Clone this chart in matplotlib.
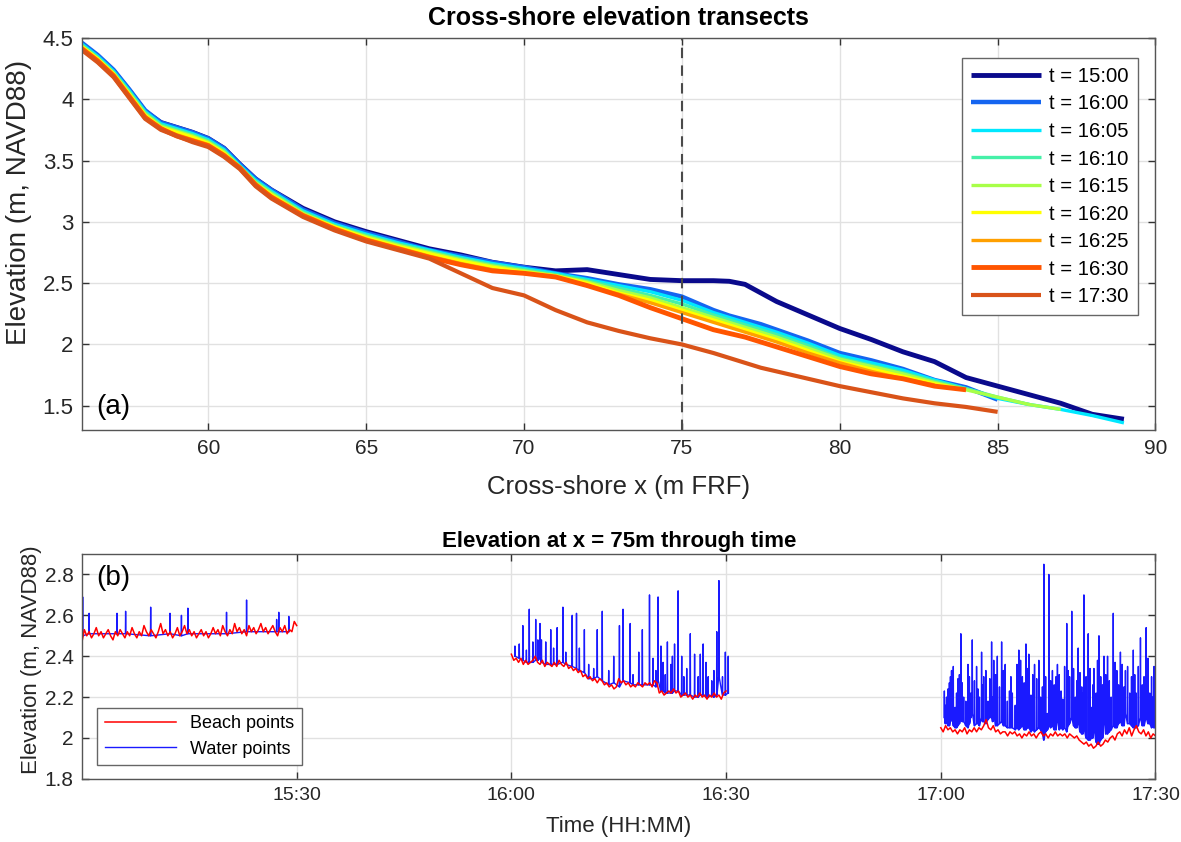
import matplotlib
matplotlib.use('Agg')
import matplotlib.pyplot as plt
import numpy as np
from matplotlib.ticker import FuncFormatter

plt.rcParams['font.family'] = ['Liberation Sans', 'DejaVu Sans']

# ---- cross-shore transects (x in m FRF, elevation in m NAVD88) ----
x_frf = [56, 56.5, 57, 57.5, 58, 58.5, 59, 59.5, 60, 60.5, 61, 61.5, 62,
         63, 64, 65, 66, 67, 68, 69, 70, 71, 72, 73, 74, 75, 76,
         76.5, 77, 77.5,
         78, 79, 80, 81, 82, 83, 84, 85, 86, 87, 88, 89]
nan = np.nan

z_1500 = [4.45, 4.35, 4.23, 4.07, 3.90, 3.81, 3.77, 3.73, 3.68, 3.60, 3.47, 3.35, 3.26,
          3.11, 3.00, 2.92, 2.85, 2.78, 2.73, 2.67, 2.63, 2.60, 2.61, 2.57, 2.53, 2.52, 2.52,
          2.515, 2.49, 2.42,
          2.35, 2.24, 2.13, 2.04, 1.94, 1.86, 1.73, 1.66, 1.59, 1.52, 1.43, 1.39]
z_1600 = [4.46, 4.36, 4.24, 4.08, 3.91, 3.81, 3.77, 3.73, 3.68, 3.60, 3.47, 3.35, 3.26,
          3.10, 2.99, 2.91, 2.84, 2.77, 2.72, 2.67, 2.63, 2.58, 2.54, 2.49, 2.45, 2.39, 2.28,
          2.235, 2.20, 2.165,
          2.12, 2.03, 1.93, 1.87, 1.80, 1.71, 1.65, 1.55, nan, nan, nan, nan]
z_1605 = [4.45, 4.35, 4.23, 4.07, 3.90, 3.80, 3.76, 3.72, 3.67, 3.59, 3.46, 3.34, 3.25,
          3.09, 2.98, 2.90, 2.83, 2.77, 2.71, 2.66, 2.62, 2.58, 2.53, 2.48, 2.43, 2.36, 2.26,
          2.22, 2.18, 2.14,
          2.10, 2.01, 1.91, 1.85, 1.79, 1.71, 1.64, 1.56, 1.51, 1.47, 1.42, 1.36]
z_1610 = [4.44, 4.34, 4.22, 4.06, 3.89, 3.79, 3.75, 3.71, 3.66, 3.58, 3.45, 3.33, 3.24,
          3.08, 2.97, 2.89, 2.82, 2.76, 2.70, 2.65, 2.61, 2.57, 2.52, 2.46, 2.40, 2.33, 2.24,
          2.20, 2.16, 2.12,
          2.08, 1.99, 1.89, 1.83, 1.77, 1.70, 1.64, 1.57, 1.51, nan, nan, nan]
z_1615 = [4.43, 4.33, 4.21, 4.05, 3.88, 3.78, 3.74, 3.70, 3.65, 3.57, 3.45, 3.32, 3.23,
          3.07, 2.96, 2.88, 2.81, 2.75, 2.69, 2.64, 2.60, 2.56, 2.51, 2.44, 2.38, 2.30, 2.22,
          2.18, 2.14, 2.10,
          2.06, 1.97, 1.88, 1.82, 1.76, 1.69, 1.63, 1.57, 1.51, 1.47, nan, nan]
z_1620 = [4.43, 4.33, 4.21, 4.04, 3.87, 3.77, 3.73, 3.69, 3.64, 3.56, 3.44, 3.31, 3.22,
          3.06, 2.96, 2.87, 2.80, 2.74, 2.68, 2.63, 2.59, 2.56, 2.50, 2.42, 2.36, 2.28, 2.20,
          2.16, 2.12, 2.08,
          2.04, 1.95, 1.86, 1.80, 1.74, 1.68, 1.63, nan, nan, nan, nan, nan]
z_1625 = [4.42, 4.32, 4.20, 4.03, 3.86, 3.76, 3.71, 3.67, 3.63, 3.55, 3.44, 3.31, 3.21,
          3.06, 2.95, 2.86, 2.79, 2.72, 2.66, 2.61, 2.58, 2.55, 2.48, 2.41, 2.34, 2.26, 2.18,
          2.14, 2.10, 2.06,
          2.02, 1.93, 1.85, 1.78, 1.72, 1.67, nan, nan, nan, nan, nan, nan]
z_1630 = [4.41, 4.31, 4.19, 4.02, 3.85, 3.76, 3.70, 3.66, 3.62, 3.54, 3.44, 3.30, 3.20,
          3.05, 2.94, 2.85, 2.78, 2.71, 2.65, 2.60, 2.58, 2.55, 2.48, 2.40, 2.30, 2.21, 2.12,
          2.09, 2.06, 2.02,
          1.98, 1.90, 1.82, 1.76, 1.72, 1.66, 1.63, nan, nan, nan, nan, nan]
z_1730 = [4.40, 4.30, 4.18, 4.01, 3.84, 3.75, 3.70, 3.65, 3.61, 3.53, 3.43, 3.29, 3.19,
          3.04, 2.93, 2.84, 2.77, 2.70, 2.58, 2.46, 2.40, 2.28, 2.18, 2.11, 2.05, 2.00, 1.93,
          1.89, 1.85, 1.81,
          1.78, 1.72, 1.66, 1.61, 1.56, 1.52, 1.49, 1.45, nan, nan, nan, nan]

profiles = [z_1500, z_1600, z_1605, z_1610, z_1615, z_1620, z_1625, z_1630, z_1730]
profile_labels = ['t = 15:00', 't = 16:00', 't = 16:05', 't = 16:10', 't = 16:15',
                  't = 16:20', 't = 16:25', 't = 16:30', 't = 17:30']
profile_colors = ['#0a0a8c', '#1565f0', '#00e8ff', '#45f0a8', '#a8ff48',
                  '#ffff00', '#ffa000', '#ff5500', '#d95319']
profile_widths = [3.5, 3.2, 2.4, 2.4, 2.4, 2.4, 2.4, 3.5, 3.0]

# ---- elevation at x = 75 m; time in minutes after 15:00 ----
beach_1 = [2.47, 2.53, 2.50, 2.52, 2.49, 2.51, 2.54, 2.50, 2.52, 2.49,
           2.51, 2.53, 2.50, 2.48, 2.52, 2.50, 2.53, 2.51, 2.49, 2.52,
           2.50, 2.54, 2.51, 2.49, 2.52, 2.50, 2.55, 2.52, 2.50, 2.53,
           2.51, 2.49, 2.52, 2.56, 2.51, 2.53, 2.50, 2.52, 2.49, 2.51,
           2.54, 2.50, 2.52, 2.55, 2.51, 2.53, 2.50, 2.52, 2.49, 2.51,
           2.53, 2.50, 2.52, 2.49, 2.51, 2.54, 2.51, 2.53, 2.50, 2.55,
           2.52, 2.50, 2.53, 2.51, 2.56, 2.52, 2.54, 2.51, 2.53, 2.50,
           2.55, 2.52, 2.54, 2.51, 2.53, 2.56, 2.52, 2.54, 2.51, 2.53,
           2.55, 2.52, 2.50, 2.54, 2.52, 2.55, 2.51, 2.53, 2.52, 2.57, 2.55]
beach_2 = [2.41, 2.38, 2.39, 2.37, 2.39, 2.36, 2.38, 2.36, 2.37, 2.38, 2.40, 2.37,
           2.36, 2.38, 2.35, 2.37, 2.36, 2.35, 2.37, 2.35, 2.38, 2.36, 2.35, 2.37,
           2.34, 2.35, 2.33, 2.34, 2.32, 2.33, 2.30, 2.31, 2.29, 2.30, 2.28, 2.29,
           2.27, 2.29, 2.28, 2.26, 2.27, 2.25, 2.26, 2.24, 2.25, 2.29, 2.27, 2.28,
           2.26, 2.27, 2.25, 2.26, 2.25, 2.27, 2.26, 2.25, 2.27, 2.26, 2.27, 2.25,
           2.28, 2.27, 2.22, 2.23, 2.21, 2.22, 2.23, 2.22, 2.24, 2.22, 2.23, 2.20,
           2.21, 2.22, 2.20, 2.21, 2.19, 2.21, 2.20, 2.22, 2.20, 2.21, 2.19, 2.21,
           2.20, 2.22, 2.20, 2.21, 2.19, 2.22, 2.23]
beach_3 = [2.05, 2.03, 2.06, 2.04, 2.05, 2.03, 2.04, 2.02, 2.04, 2.03, 2.05, 2.02,
           2.04, 2.03, 2.05, 2.03, 2.05, 2.04, 2.06, 2.09, 2.05, 2.04, 2.06, 2.03,
           2.04, 2.02, 2.03, 2.03, 2.01, 2.03, 2.02, 2.03, 2.01, 2.02, 2.00, 2.02,
           2.01, 2.03, 2.01, 2.02, 2.00, 2.02, 2.03, 2.01, 2.02, 2.00, 2.02, 2.01,
           2.03, 2.01, 2.02, 2.01, 2.02, 2.00, 2.02, 2.01, 2.00, 2.01, 1.99, 1.98,
           1.97, 1.98, 1.96, 1.97, 1.95, 1.96, 1.98, 1.96, 1.97, 1.99, 1.98, 2.00,
           2.01, 1.99, 2.02, 2.03, 2.01, 2.04, 2.02, 2.05, 2.01, 2.04, 2.06, 2.03,
           2.02, 2.04, 2.01, 2.03, 2.00, 2.02, 2.01]
beach_starts = [0, 60, 120]
beach_ends = [30, 90, 150]

# water returns: (minute, level between returns, peak)
water_1 = [(0.1, 2.50, 2.69), (1.0, 2.51, 2.61), (4.9, 2.51, 2.61), (6.1, 2.51, 2.62),
           (9.6, 2.50, 2.64), (12.3, 2.51, 2.61), (13.9, 2.50, 2.60), (14.8, 2.51, 2.635),
           (20.2, 2.51, 2.615), (23.0, 2.52, 2.675), (27.2, 2.52, 2.58), (27.5, 2.52, 2.615),
           (28.9, 2.52, 2.595)]
water_2 = [(60.5, 2.40, 2.45), (61.1, 2.39, 2.46), (61.6, 2.38, 2.55), (62.1, 2.37, 2.43),
           (62.5, 2.37, 2.63), (63.0, 2.37, 2.47), (63.4, 2.38, 2.58), (63.7, 2.38, 2.48),
           (64.0, 2.39, 2.56), (64.2, 2.37, 2.48), (64.8, 2.36, 2.47), (65.5, 2.36, 2.53),
           (65.9, 2.36, 2.44), (66.4, 2.36, 2.54), (67.2, 2.37, 2.64), (67.6, 2.36, 2.42),
           (68.5, 2.35, 2.60), (69.1, 2.34, 2.61), (69.5, 2.33, 2.44), (70.2, 2.32, 2.53),
           (70.8, 2.29, 2.36), (71.5, 2.29, 2.34), (72.0, 2.30, 2.53), (72.7, 2.28, 2.62),
           (73.6, 2.26, 2.33), (74.3, 2.27, 2.40), (75.1, 2.25, 2.55), (75.6, 2.28, 2.63),
           (76.6, 2.27, 2.56), (77.0, 2.26, 2.31), (77.8, 2.26, 2.42), (78.3, 2.26, 2.53),
           (79.3, 2.26, 2.70), (79.8, 2.26, 2.39), (80.2, 2.25, 2.33), (80.5, 2.28, 2.69),
           (80.9, 2.23, 2.45), (81.2, 2.23, 2.37), (81.5, 2.22, 2.31), (81.8, 2.22, 2.47),
           (82.3, 2.22, 2.36), (82.5, 2.22, 2.40), (82.8, 2.23, 2.46), (83.3, 2.23, 2.72),
           (83.8, 2.21, 2.40), (84.1, 2.21, 2.30), (84.5, 2.21, 2.34), (85.0, 2.21, 2.51),
           (85.6, 2.20, 2.41), (86.1, 2.20, 2.30), (86.4, 2.21, 2.41), (86.8, 2.21, 2.46),
           (87.2, 2.20, 2.37), (87.5, 2.20, 2.30), (88.0, 2.21, 2.28), (88.3, 2.20, 2.33),
           (88.7, 2.21, 2.52), (89.0, 2.30, 2.77), (89.5, 2.21, 2.30), (89.9, 2.21, 2.42),
           (90.3, 2.22, 2.40)]
water_3 = [(120.5, 2.10, 2.23), (120.65, 2.07, 2.16), (120.8, 2.08, 2.20), (121.0, 2.06, 2.24),
           (121.2, 2.06, 2.27), (121.35, 2.08, 2.30), (121.5, 2.12, 2.33), (121.75, 2.06, 2.35),
           (122.0, 2.05, 2.15), (122.2, 2.05, 2.22), (122.4, 2.06, 2.29), (122.6, 2.07, 2.31),
           (122.8, 2.10, 2.51), (123.0, 2.08, 2.27), (123.2, 2.08, 2.20), (123.5, 2.06, 2.18),
           (123.8, 2.05, 2.36), (124.0, 2.07, 2.30), (124.2, 2.10, 2.22), (124.4, 2.12, 2.48),
           (124.7, 2.06, 2.28), (125.0, 2.07, 2.35), (125.2, 2.07, 2.24), (125.4, 2.06, 2.20),
           (125.7, 2.10, 2.42), (125.85, 2.08, 2.26), (126.0, 2.08, 2.30), (126.3, 2.07, 2.33),
           (126.6, 2.09, 2.18), (126.85, 2.10, 2.29), (127.1, 2.10, 2.47), (127.25, 2.08, 2.20),
           (127.4, 2.12, 2.38), (127.65, 2.06, 2.31), (127.9, 2.06, 2.40), (128.2, 2.07, 2.25),
           (128.5, 2.08, 2.47), (128.75, 2.06, 2.33), (129.0, 2.06, 2.36), (129.3, 2.05, 2.18),
           (129.6, 2.05, 2.23), (129.8, 2.05, 2.30), (130.0, 2.05, 2.22), (130.4, 2.04, 2.16),
           (130.65, 2.05, 2.36), (130.9, 2.04, 2.43), (131.15, 2.05, 2.38), (131.4, 2.06, 2.30),
           (131.65, 2.04, 2.27), (131.9, 2.04, 2.46), (132.1, 2.05, 2.34), (132.3, 2.05, 2.41),
           (132.6, 2.03, 2.21), (132.85, 2.04, 2.31), (133.1, 2.03, 2.36), (133.4, 2.04, 2.29),
           (133.7, 2.05, 2.38), (133.95, 2.04, 2.20), (134.2, 2.02, 2.25), (134.4, 1.99, 2.85),
           (134.65, 2.03, 2.30), (134.9, 2.04, 2.12), (135.1, 2.06, 2.80), (135.35, 2.05, 2.28),
           (135.6, 2.06, 2.33), (135.85, 2.04, 2.26), (136.1, 2.04, 2.30), (136.3, 2.10, 2.36),
           (136.55, 2.04, 2.31), (136.8, 2.05, 2.23), (137.05, 2.04, 2.19), (137.3, 2.05, 2.35),
           (137.6, 2.03, 2.56), (137.8, 2.06, 2.33), (138.0, 2.07, 2.30), (138.3, 2.10, 2.62),
           (138.55, 2.06, 2.34), (138.8, 2.05, 2.20), (139.0, 2.05, 2.28), (139.2, 2.08, 2.44),
           (139.45, 2.03, 2.32), (139.7, 2.02, 2.25), (139.85, 2.02, 2.22), (140.0, 2.05, 2.70),
           (140.3, 2.00, 2.30), (140.6, 1.99, 2.51), (140.85, 1.99, 2.34), (141.1, 2.00, 2.15),
           (141.25, 2.00, 2.26), (141.4, 2.05, 2.34), (141.7, 1.98, 2.22), (141.9, 1.97, 2.38),
           (142.1, 1.97, 2.50), (142.35, 1.99, 2.30), (142.6, 2.00, 2.26), (142.8, 2.10, 2.40),
           (143.05, 2.02, 2.31), (143.3, 2.02, 2.40), (143.55, 2.03, 2.28), (143.8, 2.04, 2.20),
           (144.1, 2.06, 2.61), (144.35, 2.05, 2.37), (144.6, 2.05, 2.33), (144.85, 2.07, 2.26),
           (145.1, 2.08, 2.42), (145.35, 2.06, 2.36), (145.6, 2.06, 2.25), (145.8, 2.12, 2.33),
           (146.1, 2.07, 2.35), (146.4, 2.07, 2.22), (146.65, 2.06, 2.30), (146.9, 2.05, 2.43),
           (147.1, 2.05, 2.31), (147.3, 2.05, 2.22), (147.6, 2.06, 2.35), (147.9, 2.10, 2.49),
           (148.15, 2.06, 2.26), (148.4, 2.06, 2.30), (148.7, 2.10, 2.54), (148.95, 2.07, 2.39),
           (149.2, 2.07, 2.22), (149.45, 2.05, 2.30), (149.6, 2.06, 2.20), (149.8, 2.05, 2.35)]

time_ticks = [30, 60, 90, 120, 150]
time_labels = ['15:30', '16:00', '16:30', '17:00', '17:30']

frame_color = '#555555'
grid_color = '#e1e1e1'


def style_axes(ax, xsize, ysize):
    for sp in ax.spines.values():
        sp.set_color(frame_color)
        sp.set_linewidth(1.0)
    ax.tick_params(direction='in', top=True, right=True, length=5, width=1,
                   color='#333333', labelcolor='#262626', pad=6)
    ax.tick_params(axis='x', labelsize=xsize)
    ax.tick_params(axis='y', labelsize=ysize)
    ax.grid(True, color=grid_color, linewidth=1.0)
    ax.set_axisbelow(True)


def spike_path(returns, dt=0.03):
    # each return goes up to its peak and drops straight back
    t, z = [], []
    for tm, lo, hi in sorted(returns):
        t += [tm - dt, tm, tm + dt]
        z += [lo, hi, lo]
    return t, z


fig = plt.figure(figsize=(11.81, 8.42), dpi=100)
ax1 = fig.add_axes([0.0694, 0.489, 0.909, 0.466])
ax2 = fig.add_axes([0.0694, 0.075, 0.909, 0.267])

# (a) transects
for z, lab, col, lw in zip(profiles, profile_labels, profile_colors, profile_widths):
    ax1.plot(x_frf, z, color=col, linewidth=lw, label=lab, solid_capstyle='butt')
ax1.axvline(75, color='#4a4a4a', linestyle=(0, (5, 3.5)), linewidth=1.5)
ax1.set_xlim(56, 90)
ax1.set_ylim(1.3, 4.5)
ax1.set_xticks([60, 65, 70, 75, 80, 85, 90])
ax1.set_yticks([1.5, 2, 2.5, 3, 3.5, 4, 4.5])
ax1.yaxis.set_major_formatter(FuncFormatter(lambda v, p: '%g' % v))
style_axes(ax1, 15, 16)
ax1.set_title('Cross-shore elevation transects', fontsize=18, fontweight='bold', pad=9)
ax1.set_xlabel('Cross-shore x (m FRF)', fontsize=18.5, color='#262626')
ax1.set_ylabel('Elevation (m, NAVD88)', fontsize=20, color='#262626')
ax1.xaxis.set_label_coords(0.5, -0.115)
ax1.yaxis.set_label_coords(-0.047, 0.58)
ax1.text(0.013, 0.06, '(a)', transform=ax1.transAxes, fontsize=20, va='center', ha='left')
leg1 = ax1.legend(loc='upper right', bbox_to_anchor=(0.993, 0.975), fontsize=14.6,
                  handlelength=3.45, frameon=True, fancybox=False, edgecolor='#666666',
                  framealpha=1, borderpad=0.45, labelspacing=0.42, handletextpad=0.4)
leg1.get_frame().set_linewidth(1.0)

# (b) elevation at x = 75 m through time
for seg in [water_1, water_2, water_3]:
    t, z = spike_path(seg)
    ax2.plot(t, z, color='#1a1aff', linewidth=1.0)
for vals, t0, t1 in zip([beach_1, beach_2, beach_3], beach_starts, beach_ends):
    ax2.plot(np.linspace(t0, t1, len(vals)), vals, color='#ff0000', linewidth=1.1)
ax2.plot([], [], color='#ff0000', linewidth=1.1, label='Beach points')
ax2.plot([], [], color='#1a1aff', linewidth=1.0, label='Water points')
ax2.set_xlim(0, 150)
ax2.set_ylim(1.8, 2.9)
ax2.set_xticks(time_ticks)
ax2.set_xticklabels(time_labels)
ax2.set_yticks([1.8, 2.0, 2.2, 2.4, 2.6, 2.8])
ax2.yaxis.set_major_formatter(FuncFormatter(lambda v, p: '%g' % v))
style_axes(ax2, 14, 15)
ax2.set_title('Elevation at x = 75m through time', fontsize=16, fontweight='bold', pad=5)
ax2.set_xlabel('Time (HH:MM)', fontsize=16, color='#262626')
ax2.set_ylabel('Elevation (m, NAVD88)', fontsize=16, color='#262626')
ax2.xaxis.set_label_coords(0.5, -0.165)
ax2.yaxis.set_label_coords(-0.037, 0.53)
ax2.text(0.013, 0.895, '(b)', transform=ax2.transAxes, fontsize=20, va='center', ha='left')
leg2 = ax2.legend(loc='lower left', bbox_to_anchor=(0.006, 0.02), fontsize=13,
                  handlelength=3.9, frameon=True, fancybox=False, edgecolor='#666666',
                  framealpha=1, borderpad=0.43, labelspacing=0.45, handletextpad=0.8)
leg2.get_frame().set_linewidth(1.0)

fig.savefig('out.png', dpi=100, facecolor='white')
